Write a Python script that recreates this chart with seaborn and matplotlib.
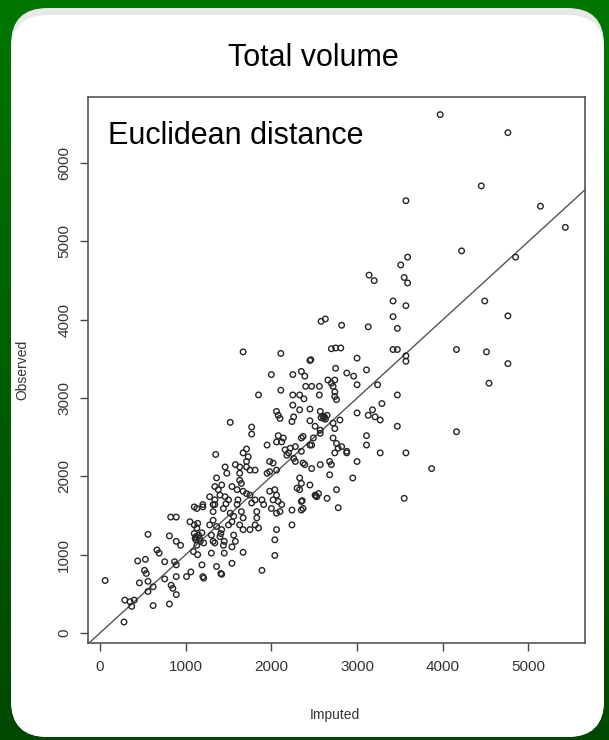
import numpy as np
import pandas as pd
import matplotlib
matplotlib.use("Agg")
import matplotlib.pyplot as plt
import seaborn as sns
from matplotlib.patches import FancyBboxPatch
from matplotlib.colors import LinearSegmentedColormap

title = "Total volume"
method_label = "Euclidean distance"
x_label = "Imputed"
y_label = "Observed"
x_ticks = [0, 1000, 2000, 3000, 4000, 5000]
y_ticks = [0, 1000, 2000, 3000, 4000, 5000, 6000]

imputed = [
    3970, 4760, 4450, 3570, 5140, 5430, 4220, 4850, 3590, 3510, 3140, 3200, 3550, 3590, 3420, 3570,
    4490, 3420, 4760, 3470, 2580, 2630, 2820, 3130, 2700, 2750, 2810, 3420, 3470, 3570, 3570, 4160,
    4510, 4760, 4540, 2460, 3000, 3110, 2750, 2880, 2960, 3000, 3240, 3470, 3290, 4160, 3570, 3870,
    3550,
    60, 280, 290, 350, 400, 370, 460, 560, 520, 540, 560, 620, 440, 530, 620, 560, 665, 690, 755, 755,
    810, 825, 890, 870, 890, 830, 850, 890, 810, 890, 940, 890, 1010, 1060, 1100, 1200, 1050, 1100,
    1140, 1100, 1120, 1160, 1090, 1140, 1190, 1200, 1280, 1320, 1360, 1300, 1340, 1300, 1340, 1360,
    1410, 1450, 1410, 1450,
    1520, 1770, 1770, 2080, 2140, 2060, 2120, 1950, 2240, 2160, 2200, 2280, 1350, 1710, 1670, 1730,
    1710, 1580, 1630, 1710, 1750, 1810, 1460, 1980, 2020, 1950, 1980, 2060, 1630, 1630, 1650, 1340,
    1420, 1380, 1540, 1600, 1460, 1500, 1670, 1710, 1750, 1810, 1770, 1610, 1600, 1890, 1910, 1980,
    2040, 2060, 2020, 2080, 2120, 2100, 2000, 2240, 1130, 1200, 1320, 1320, 1440, 1130, 1420, 1520,
    1560, 1540, 1500, 1650, 1670, 1630, 1830, 1830, 1810, 1670, 1750, 1850, 2060, 2060, 2040, 2240,
    1110, 1150, 1320, 1400, 1440, 1560, 1580, 1540,
    1670, 2110, 2450, 2000, 2250, 2350, 2390, 2660, 2700, 2740, 1850, 2110, 2400, 2470, 2560, 2720,
    2740, 2250, 2330, 2380, 2560, 2740, 2760, 2250, 2330, 2450, 2570, 2060, 2080, 2100, 2260, 2450,
    2510, 2570, 2600, 2620, 2650, 2580, 2720, 2740, 2350, 2450, 2720, 2760, 2780, 2740, 2880,
    3000, 3180, 3130, 3210, 3270, 2800, 3470,
    3110, 3110, 3270, 2820, 2880, 3000, 2680, 2700, 2680, 2950, 2570, 2470, 2390, 2330, 2350, 2300,
    2330, 2450, 2510, 2550, 2650, 2760, 2350, 2350, 2780, 2220, 2180, 2260, 2280, 2370, 2350, 2470,
    2370, 2570, 2490,
    1210, 1420, 1540, 1670, 1890, 2040, 2360, 2370, 1130, 1170, 1210, 1280, 1340, 1400, 1360, 1480,
    1190, 2520, 2610, 1120, 2630, 1470, 2530,
]
observed = [
    6620, 6390, 5710, 5520, 5450, 5180, 4880, 4800, 4800, 4700, 4570, 4500, 4540, 4470, 4240, 4180,
    4240, 4040, 4050, 3890, 3980, 4010, 3930, 3910, 3630, 3640, 3640, 3620, 3620, 3540, 3470, 3620,
    3590, 3440, 3190, 3490, 3510, 3360, 3380, 3320, 3280, 3170, 3170, 3040, 2930, 2570, 2300, 2100,
    1720,
    670, 140, 420, 400, 420, 340, 640, 660, 800, 760, 530, 590, 920, 940, 350, 1260, 1060, 1020, 910, 690,
    1240, 1480, 1480, 910, 870, 610, 570, 490, 370, 1170, 1120, 720, 720, 780, 1610, 1640, 1420, 1380,
    1400, 1270, 1190, 1210, 1040, 1000, 870, 720, 1380, 1440, 1360, 1250, 1150, 1020, 1640, 850,
    760, 1020, 1270, 1170,
    2690, 2630, 2540, 2520, 2490, 2440, 2440, 2400, 2700, 2340, 2300, 2380, 2280, 2350, 2300, 2250,
    2190, 2150, 2120, 2120, 2080, 2080, 2120, 2190, 2170, 2040, 2060, 2080, 2040, 1950, 1910, 1870,
    1890, 1830, 1870, 1830, 1740, 1700, 1810, 1780, 1760, 1700, 1660, 1700, 1640, 1700, 1640, 1810,
    1830, 1760, 1700, 1680, 1640, 1550, 1590, 1570, 1590, 1610, 1640, 1550, 1590, 1340, 1320, 1530,
    1490, 1420, 1380, 1550, 1470, 1380, 1550, 1470, 1380, 1320, 1320, 1340, 1530, 1320, 1190, 1380,
    1210, 1250, 1170, 1230, 1120, 1250, 1170, 1100,
    3590, 3570, 3480, 3300, 3300, 3340, 3280, 3230, 3190, 3230, 3040, 3100, 3150, 3150, 3150, 3150,
    3080, 3040, 3040, 2990, 3040, 3020, 2980, 2910, 2850, 2860, 2830, 2830, 2780, 2740, 2760, 2710,
    2640, 2590, 2770, 2760, 2780, 2750, 2680, 2610, 2490, 2400, 2490, 2420, 2360, 2300, 2320,
    2810, 2850, 2780, 2760, 2720, 2720, 2640,
    2520, 2400, 2300, 2380, 2300, 2190, 2190, 2150, 2020, 1980, 2150, 2100, 2150, 1980, 1910, 1850,
    1830, 1890, 1760, 1780, 1720, 1830, 1680, 1570, 1600, 2360, 2270, 2230, 2190, 2170, 2320, 2400,
    2510, 2550, 2490,
    700, 750, 890, 1030, 800, 990, 1690, 1590, 1120, 1170, 1150, 1740, 1700, 1760, 1980, 2040,
    1280, 1750, 2740, 1230, 2730, 1650, 1740,
]

df = pd.DataFrame({"Imputed": imputed, "Observed": observed})

plt.rcParams["font.family"] = ["Liberation Sans", "DejaVu Sans"]
W, H, DPI = 6.09, 7.40, 100
fig = plt.figure(figsize=(W, H), dpi=DPI)

# green gradient background with white rounded panel
bg = fig.add_axes([0, 0, 1, 1], zorder=-10)
grad = np.linspace(0, 1, 256).reshape(-1, 1)
cmap = LinearSegmentedColormap.from_list("g", ["#007600", "#004800"])
bg.imshow(grad, aspect="auto", cmap=cmap, extent=[0, 1, 0, 1], origin="upper")
bg.set_xlim(0, 1)
bg.set_ylim(0, 1)
bg.axis("off")
px_x, px_y = 1 / 609, 1 / 740
panel_shadow = FancyBboxPatch((11 * px_x, 3 * px_y), 593 * px_x, 729 * px_y,
                              boxstyle="round,pad=0,rounding_size=0.06",
                              transform=bg.transAxes, facecolor="#e8e8e8", edgecolor="none",
                              mutation_aspect=609 / 740)
bg.add_patch(panel_shadow)
panel = FancyBboxPatch((11 * px_x, 3 * px_y), 593 * px_x, 722 * px_y,
                       boxstyle="round,pad=0,rounding_size=0.06",
                       transform=bg.transAxes, facecolor="white", edgecolor="none",
                       mutation_aspect=609 / 740)
bg.add_patch(panel)

ax = fig.add_axes([88 / 609, 1 - 643 / 740, (585 - 88) / 609, (643 - 97) / 740])
sns.scatterplot(data=df, x="Imputed", y="Observed", ax=ax, marker="o", s=16,
                facecolor="none", edgecolor="#262626", linewidth=1.0, zorder=3)
ax.axline((0, 0), slope=1, color="#555555", linewidth=1.0, zorder=2)

ax.set_xlim(-140, 5660)
ax.set_ylim(-128, 6845)
ax.set_xticks(x_ticks)
ax.set_yticks(y_ticks)
ax.set_xticklabels([str(t) for t in x_ticks])
ax.set_yticklabels([str(t) for t in y_ticks], rotation=90, va="center")
ax.tick_params(axis="both", direction="out", length=6, width=1.0, color="#444444",
               labelsize=11, labelcolor="#333333", pad=6)
for s in ax.spines.values():
    s.set_color("#555555")
    s.set_linewidth(1.2)
ax.set_xlabel("")
ax.set_ylabel("")
ax.set_facecolor("white")

fig.text(335 / 609, 1 - 715 / 740, x_label, ha="center", va="center", fontsize=10, color="#333333")
fig.text(22 / 609, 1 - 370 / 740, y_label, ha="center", va="center", fontsize=10, rotation=90,
         color="#333333")
fig.text(313 / 609, 1 - 58 / 740, title, ha="center", va="center", fontsize=22, color="black")
ax.text(108 / 609, 1 - 136 / 740, method_label, transform=fig.transFigure, ha="left",
        va="center", fontsize=22, color="black")

fig.savefig("out.png", dpi=DPI)
